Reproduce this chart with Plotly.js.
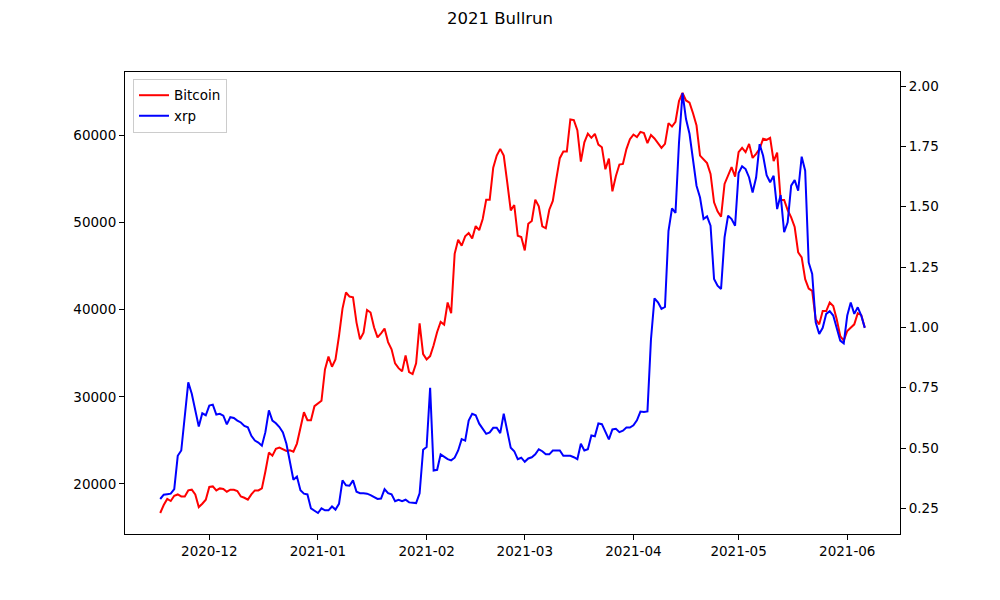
<!DOCTYPE html>
<html>
<head>
<meta charset="utf-8">
<script src="https://cdn.plot.ly/plotly-3.0.1.min.js"></script>
<style>
  html, body { margin: 0; padding: 0; background: #fff; }
  #chart { width: 1000px; height: 600px; }
</style>
</head>
<body>
<div id="chart"></div>
<script>
// daily closes, 2020-11-17 .. 2021-06-06
var startDate = '2020-11-17';

var bitcoin = [
  // Nov 17 - Nov 30
  16670, 17585, 18280, 18045, 18650, 18800, 18570, 18570, 19265, 19345, 18800, 17355, 17735, 18200,
  // Dec
  19655, 19725, 19265, 19495, 19425, 19115, 19345, 19345, 19195, 18570, 18420, 18200, 18800, 19265, 19265, 19495,
  21430, 23605, 23250, 24030, 24180, 24030, 23795, 23865, 23715, 24640, 26625, 28235, 27320, 27320, 28930,
  // Jan
  29240, 29555, 33150, 34620, 33460, 34305, 36985, 40135, 41980, 41515, 41435, 38525, 36600, 37375, 39975, 39680,
  37990, 36830, 37295, 37840, 36290, 35455, 33845, 33300, 32930, 34760, 32845, 32615, 33845, 38445, 34910,
  // Feb
  34305, 34680, 35915, 37445, 38595, 38290, 40830, 39600, 46415, 48030, 47345, 48420, 48805, 48190,
  49610, 49145, 50415, 52640, 52640, 56315, 57695, 58470, 57695, 54630, 51410, 52025, 48490, 48340,
  // Mar
  46810, 49870, 50185, 52640, 51870, 49580, 49350, 51480, 52490, 55015, 57400, 58155, 58155, 61840, 61770, 60620,
  57010, 59215, 60220, 59735, 60190, 58960, 58660, 56130, 57350, 53595, 55355, 56665, 56745, 58440, 59585,
  // Apr
  60110, 59815, 60420, 60280, 59120, 60050, 59655, 59040, 58580, 59040, 61425, 61030, 61575, 63955, 64880,
  64025, 63765, 62555, 61145, 57695, 57200, 56830, 55590, 52340, 51290, 50675, 54440, 55355, 56365, 55275,
  // May
  58085, 58580, 58085, 59040, 57430, 57895, 58470, 59620, 59505, 59735, 57050, 58045, 52600, 52600, 51445, 50605,
  49500, 46580, 46005, 43510, 42440, 42160, 38905, 38325, 39855, 39855, 40830, 40440, 38905, 36985, 36460,
  // Jun 1 - Jun 6
  37560, 37950, 38325, 39600, 39370, 37950
];

var xrp = [
  // Nov 17 - Nov 30
  0.289, 0.307, 0.309, 0.311, 0.330, 0.468, 0.490, 0.628, 0.772, 0.725, 0.656, 0.589, 0.644, 0.636,
  // Dec
  0.676, 0.680, 0.639, 0.642, 0.634, 0.598, 0.628, 0.625, 0.614, 0.606, 0.592, 0.586, 0.551, 0.531, 0.523, 0.510,
  0.566, 0.656, 0.614, 0.603, 0.587, 0.565, 0.518, 0.449, 0.369, 0.382, 0.325, 0.311, 0.308, 0.250, 0.242,
  // Jan
  0.231, 0.250, 0.242, 0.242, 0.258, 0.245, 0.269, 0.366, 0.346, 0.344, 0.366, 0.319, 0.313, 0.313, 0.311, 0.305,
  0.297, 0.289, 0.291, 0.330, 0.313, 0.308, 0.280, 0.286, 0.280, 0.286, 0.275, 0.272, 0.272, 0.313, 0.493,
  // Feb
  0.504, 0.750, 0.407, 0.410, 0.474, 0.465, 0.454, 0.449, 0.460, 0.490, 0.537, 0.531, 0.614, 0.642,
  0.636, 0.601, 0.578, 0.559, 0.565, 0.584, 0.584, 0.562, 0.642, 0.573, 0.501, 0.487, 0.454, 0.460,
  // Mar
  0.443, 0.457, 0.462, 0.474, 0.495, 0.487, 0.474, 0.474, 0.490, 0.490, 0.490, 0.468, 0.468, 0.468, 0.462, 0.454,
  0.518, 0.490, 0.495, 0.552, 0.549, 0.602, 0.599, 0.566, 0.536, 0.577, 0.580, 0.566, 0.572, 0.585, 0.585,
  // Apr
  0.594, 0.615, 0.651, 0.649, 0.652, 0.950, 1.120, 1.104, 1.077, 1.085, 1.399, 1.493, 1.474, 1.766, 1.971,
  1.863, 1.802, 1.700, 1.587, 1.538, 1.449, 1.460, 1.421, 1.201, 1.173, 1.159, 1.373, 1.463, 1.449, 1.421,
  // May
  1.639, 1.667, 1.656, 1.621, 1.559, 1.621, 1.759, 1.711, 1.631, 1.601, 1.628, 1.490, 1.548, 1.394, 1.435, 1.587,
  1.610, 1.566, 1.707, 1.649, 1.269, 1.221, 1.021, 0.973, 0.998, 1.056, 1.067, 1.049, 0.994, 0.945, 0.934,
  // Jun 1 - Jun 6
  1.049, 1.103, 1.056, 1.083, 1.049, 0.998
];

var btcTicks = [20000, 30000, 40000, 50000, 60000];
var xrpTicks = [0.25, 0.50, 0.75, 1.00, 1.25, 1.50, 1.75, 2.00];
var monthTicks = ['2020-12-01', '2021-01-01', '2021-02-01', '2021-03-01', '2021-04-01', '2021-05-01', '2021-06-01'];

// one date per value, consecutive days
var dates = [];
var d0 = new Date(startDate + 'T00:00:00Z');
for (var i = 0; i < bitcoin.length; i++) {
  var d = new Date(d0.getTime() + i * 86400000);
  dates.push(d.toISOString().slice(0, 10));
}

// matplotlib style 5% margins
function padRange(arr) {
  var lo = Math.min.apply(null, arr), hi = Math.max.apply(null, arr);
  var m = (hi - lo) * 0.05;
  return [lo - m, hi + m];
}
var t0 = d0.getTime(), t1 = t0 + (dates.length - 1) * 86400000;
var tm = (t1 - t0) * 0.05;
var xRange = [new Date(t0 - tm).toISOString(), new Date(t1 + tm).toISOString()];

var font = 'DejaVu Sans, Liberation Sans, sans-serif';

var trace1 = {
  x: dates,
  y: bitcoin,
  name: 'Bitcoin',
  type: 'scatter',
  mode: 'lines',
  line: { color: 'red', width: 2 },
  yaxis: 'y'
};

var trace2 = {
  x: dates,
  y: xrp,
  name: 'xrp',
  type: 'scatter',
  mode: 'lines',
  line: { color: 'blue', width: 2 },
  yaxis: 'y2'
};

var axisStyle = {
  showgrid: false,
  zeroline: false,
  showline: true,
  linecolor: 'black',
  linewidth: 1,
  ticks: 'outside',
  ticklen: 5,
  tickwidth: 1,
  tickcolor: 'black',
  tickfont: { family: font, size: 13.5, color: 'black' }
};

var layout = {
  width: 1000,
  height: 600,
  margin: { l: 125, r: 100, t: 72, b: 66 },
  paper_bgcolor: 'white',
  plot_bgcolor: 'white',
  font: { family: font, color: 'black' },
  title: {
    text: '2021 Bullrun',
    xref: 'container', x: 0.5, xanchor: 'center',
    yref: 'container', y: 0.97, yanchor: 'middle',
    font: { family: font, size: 16.5, color: 'black' }
  },
  xaxis: Object.assign({}, axisStyle, {
    type: 'date',
    range: xRange,
    tickvals: monthTicks,
    tickformat: '%Y-%m',
    mirror: true
  }),
  yaxis: Object.assign({}, axisStyle, {
    range: padRange(bitcoin),
    tickvals: btcTicks,
    tickformat: 'd',
    mirror: true
  }),
  yaxis2: Object.assign({}, axisStyle, {
    overlaying: 'y',
    side: 'right',
    range: padRange(xrp),
    tickvals: xrpTicks,
    tickformat: '.2f'
  }),
  showlegend: true,
  legend: {
    x: 0.0103, y: 0.985, xanchor: 'left', yanchor: 'top',
    bgcolor: 'white',
    bordercolor: '#cccccc',
    borderwidth: 1,
    font: { family: font, size: 13.5, color: 'black' },
    tracegroupgap: 0
  },
  hovermode: false
};

Plotly.newPlot('chart', [trace1, trace2], layout, { displayModeBar: false, staticPlot: true });
</script>
</body>
</html>
